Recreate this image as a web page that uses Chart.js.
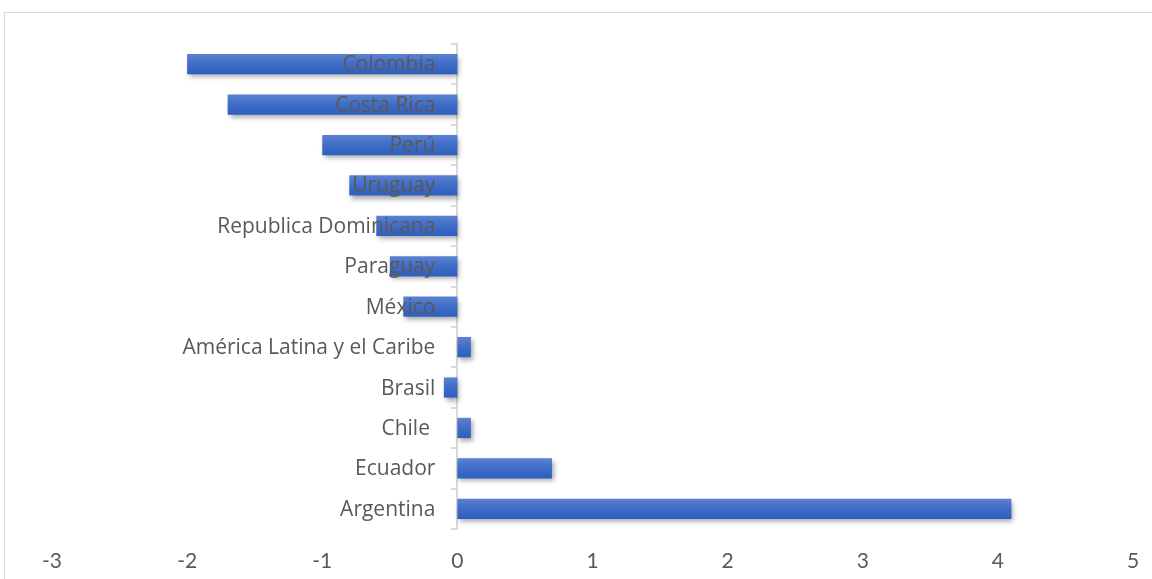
<!DOCTYPE html>
<html>
<head>
<meta charset="utf-8">
<script src="https://cdn.jsdelivr.net/npm/chart.js@4.4.1/dist/chart.umd.min.js"></script>
<style>
    html, body { margin: 0; padding: 0; background: #fff; }
    #wrap { position: relative; width: 1152px; height: 579px; overflow: hidden; }
    #frame { position: absolute; left: 4px; top: 12px; width: 1400px; height: 800px;
             border-left: 1px solid #d9d9d9; border-top: 1px solid #d9d9d9; }
    #chart { position: absolute; left: 0; top: 0; }
</style>
</head>
<body>
<div id="wrap">
    <div id="frame"></div>
    <canvas id="chart" width="1152" height="579"></canvas>
</div>
<script>
    // Datos
    var paises = ['Colombia', 'Costa Rica', 'Perú', 'Uruguay', 'Republica Dominicana',
                  'Paraguay', 'México', 'América Latina y el Caribe', 'Brasil', 'Chile ',
                  'Ecuador', 'Argentina'];
    var valores = [-2.0, -1.7, -1.0, -0.8, -0.6, -0.5, -0.4, 0.1, -0.1, 0.1, 0.7, 4.1];
    var ejeMin = -3;
    var ejeMax = 5;

    var textColor = '#595959';
    var labelFont = '21px "Open Sans", "Noto Sans", sans-serif';
    var tickFamily = 'Lato, "Noto Sans", sans-serif';

    // Degradado vertical por barra, como el estilo de Excel
    function barGradient(c) {
        var chart = c.chart;
        var yScale = chart.scales.y;
        if (!chart.chartArea || !yScale) return '#4472c4';
        var y = yScale.getPixelForValue(c.dataIndex);
        var half = Math.abs(yScale.getPixelForValue(1) - yScale.getPixelForValue(0)) * 0.5 / 2;
        var g = chart.ctx.createLinearGradient(0, y - half, 0, y + half);
        g.addColorStop(0, '#5b82d2');
        g.addColorStop(0.5, '#3f6cc7');
        g.addColorStop(1, '#2e5fc0');
        return g;
    }

    // Sombra de las barras y etiquetas de categoría encima de ellas
    var sombraPlugin = {
        id: 'sombra',
        beforeDatasetsDraw: function (chart) {
            var ctx = chart.ctx;
            ctx.save();
            ctx.shadowColor = 'rgba(0,0,0,0.35)';
            ctx.shadowBlur = 5;
            ctx.shadowOffsetX = 2;
            ctx.shadowOffsetY = 3;
        },
        afterDatasetsDraw: function (chart) {
            var ctx = chart.ctx;
            ctx.restore();
            var yScale = chart.scales.y;
            var xZero = chart.scales.x.getPixelForValue(0);
            ctx.save();
            ctx.font = labelFont;
            ctx.fillStyle = textColor;
            ctx.textAlign = 'right';
            ctx.textBaseline = 'middle';
            chart.data.labels.forEach(function (lab, i) {
                ctx.fillText(lab, xZero - 22, yScale.getPixelForTick(i) + 1);
            });
            ctx.restore();
        }
    };

    new Chart(document.getElementById('chart').getContext('2d'), {
        type: 'bar',
        data: {
            labels: paises,
            datasets: [{
                data: valores,
                backgroundColor: barGradient,
                borderWidth: 0,
                barPercentage: 0.5,
                categoryPercentage: 1.0
            }]
        },
        options: {
            indexAxis: 'y',
            responsive: false,
            animation: false,
            layout: {
                padding: { left: 52, right: 19, top: 44, bottom: 11 }
            },
            scales: {
                x: {
                    min: ejeMin,
                    max: ejeMax,
                    grid: { display: false, drawTicks: true, tickLength: 17 },
                    border: { display: false },
                    afterFit: function (s) { s.height = 39; },
                    ticks: {
                        stepSize: 1,
                        color: textColor,
                        padding: 3,
                        font: { family: tickFamily, size: 21 }
                    }
                },
                y: {
                    position: { x: 0 },
                    grid: {
                        drawOnChartArea: false,
                        drawTicks: true,
                        tickLength: 5,
                        color: '#d9d9d9',
                        lineWidth: 2
                    },
                    border: { display: true, color: '#d9d9d9', width: 2 },
                    ticks: { display: false }
                }
            },
            plugins: {
                legend: { display: false },
                tooltip: { enabled: false }
            }
        },
        plugins: [sombraPlugin]
    });
</script>
</body>
</html>
